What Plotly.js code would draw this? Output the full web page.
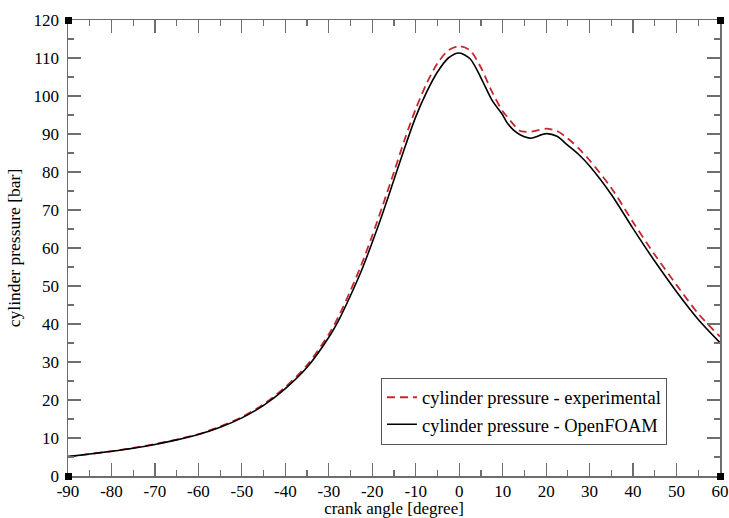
<!DOCTYPE html>
<html>
<head>
<meta charset="utf-8">
<script src="https://cdn.plot.ly/plotly-3.0.1.min.js"></script>
<style>html,body{margin:0;padding:0;background:#fff;}#chart{width:729px;height:518px;}</style>
</head>
<body>
<div id="chart"></div>
<script>
const crankAngle = [-90,-85,-80,-75,-70,-65,-60,-55,-50,-45,-40,-35,-30,-27.5,-25,-22.5,-20,-17.5,-15,-12.5,-10,-7.5,-5,-2.5,0,2.5,5,7.5,10,11,12.5,14,15,16.5,17.5,20,22.5,25,27.5,30,35,40,45,50,55,60];
const pressureOpenFOAM = [5.1,5.8,6.5,7.3,8.3,9.5,10.9,12.8,15.3,18.6,23.0,28.6,36.5,41.5,47.5,54.0,61.5,69.5,78.0,86.5,94.5,101.0,106.3,110.0,111.3,109.8,104.8,99.0,95.0,93.0,91.0,89.8,89.3,88.9,89.2,90.1,89.4,87.0,84.6,81.6,74.1,65.1,56.5,48.5,41.2,35.1];
const pressureExperimental = [5.1,5.8,6.5,7.4,8.4,9.6,11.0,13.0,15.5,18.9,23.4,29.2,37.3,42.6,48.8,55.6,63.3,71.5,80.0,88.7,96.6,103.3,108.6,112.0,113.1,112.0,107.5,101.2,96.0,94.6,92.5,90.8,90.6,90.6,90.8,91.4,90.8,88.8,86.2,83.1,75.8,66.8,58.2,50.3,42.7,36.7];
const xTickVals = [-90,-80,-70,-60,-50,-40,-30,-20,-10,0,10,20,30,40,50,60];
const xTickText = ["-90","-80","-70","-60","-50","-40","-30","-20","-10","0","10","20","30","40","50","60"];
const yTickVals = [0,10,20,30,40,50,60,70,80,90,100,110,120];
const seriesNames = ["cylinder pressure - experimental","cylinder pressure - OpenFOAM"];

const fam = "Liberation Serif, Times New Roman, serif";
const font = {family: fam, size: 17.5, color: "#000"};
const yfont = {family: fam, size: 17, color: "#000"};
const xfont = {family: fam, size: 17, color: "#000"};
const axisCol = "#6e6e6e";

const traces = [
  {x: crankAngle, y: pressureExperimental, name: seriesNames[0], mode: "lines",
   line: {color: "#c8262b", width: 1.8, dash: "8px,5px", shape: "spline", smoothing: 0.8}},
  {x: crankAngle, y: pressureOpenFOAM, name: seriesNames[1], mode: "lines",
   line: {color: "#000", width: 1.6, shape: "spline", smoothing: 0.8}}
];

function corner(xa, ya) {
  return {type: "rect", xref: "paper", yref: "paper", xsizemode: "pixel", ysizemode: "pixel",
    xanchor: xa, yanchor: ya, x0: -3, x1: 4, y0: -4, y1: 3,
    fillcolor: "#000", line: {width: 0}, layer: "above"};
}

const layout = {
  width: 729, height: 518,
  margin: {l: 68, r: 9, t: 19.5, b: 41.5},
  paper_bgcolor: "#fff", plot_bgcolor: "#fff",
  font: font,
  showlegend: true,
  legend: {x: 0.48, y: 0.2155, xanchor: "left", yanchor: "top",
    bgcolor: "#fff", bordercolor: "#555", borderwidth: 1,
    font: {family: fam, size: 18.5, color: "#000"}, tracegroupgap: 0},
  xaxis: {range: [-90, 60], tickmode: "array", tickvals: xTickVals, ticktext: xTickText,
    ticks: "inside", ticklen: 13, tickwidth: 1.2, tickcolor: axisCol,
    minor: {dtick: 5, tick0: 0, ticks: "inside", ticklen: 6, tickwidth: 1.2, tickcolor: axisCol, showgrid: false},
    showline: true, linecolor: axisCol, linewidth: 1.5, mirror: "allticks",
    showgrid: false, zeroline: false, tickfont: xfont, automargin: false, ticklabelstandoff: -1,
    title: {text: "crank angle [degree]", font: xfont, standoff: 2}},
  yaxis: {range: [0, 120], tickmode: "array", tickvals: yTickVals,
    ticks: "inside", ticklen: 13, tickwidth: 1.2, tickcolor: axisCol,
    minor: {dtick: 5, tick0: 0, ticks: "inside", ticklen: 6, tickwidth: 1.2, tickcolor: axisCol, showgrid: false},
    showline: true, linecolor: axisCol, linewidth: 1.5, mirror: "allticks",
    showgrid: false, zeroline: false, tickfont: yfont, automargin: false, ticklabelstandoff: 4,
    title: {text: "cylinder pressure [bar]", font: font, standoff: 8}},
  shapes: [corner(0, 0), corner(1, 0), corner(0, 1), corner(1, 1)]
};

Plotly.newPlot("chart", traces, layout, {displayModeBar: false, staticPlot: true});
</script>
</body>
</html>
